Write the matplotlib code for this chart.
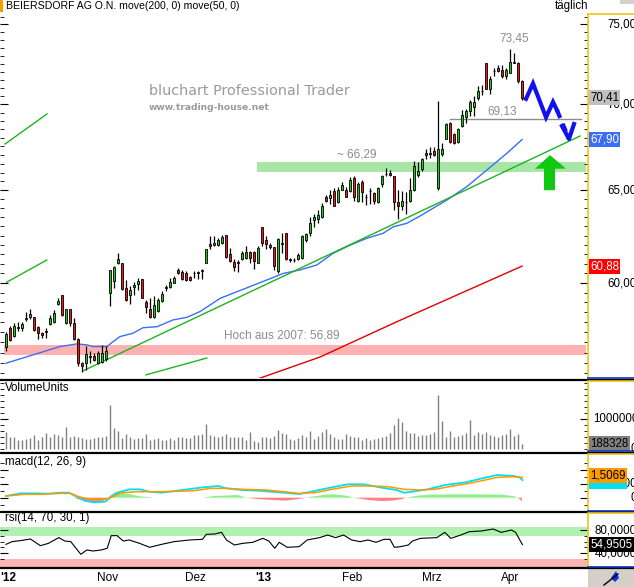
import numpy as np
import matplotlib.pyplot as plt
from matplotlib.lines import Line2D
from matplotlib.patches import Rectangle, Polygon
from matplotlib.ticker import FixedLocator, NullFormatter
from matplotlib.transforms import blended_transform_factory as blend

plt.rcParams['font.family'] = ['Liberation Sans', 'DejaVu Sans']
plt.rcParams['font.size'] = 8

# ---- values (x = trading day index, 0 = late Sept 2012) ----
opens = [56.77, 57.70, 57.32, 57.70, 57.70, 58.15, 58.25, 58.28, 57.78, 57.45,
         57.55, 57.90, 58.03, 58.90, 59.40, 57.95, 58.68, 57.95, 57.18, 56.00,
         55.98, 56.30, 56.32, 55.98, 56.07, 56.18, 59.48, 60.12, 61.02, 61.06,
         59.73, 59.37, 59.80, 59.95, 60.20, 59.00, 58.68, 58.28, 58.58, 59.08,
         59.75, 59.78, 60.02, 60.70, 60.55, 60.52, 60.29, 60.52, 60.50, 60.62,
         61.06, 62.04, 61.99, 62.00, 62.13, 62.55, 61.50, 61.09, 61.10, 61.23,
         61.33, 61.63, 61.63, 61.06, 62.99, 62.27, 61.99, 61.87, 60.60, 62.08,
         62.62, 61.24, 61.22, 61.27, 61.33, 62.26, 62.67, 63.35, 63.40, 63.53,
         64.64, 64.55, 64.96, 64.32, 65.04, 65.04, 64.96, 65.68, 64.42, 65.48,
         64.62, 64.96, 64.85, 64.32, 65.35, 65.90, 65.97, 65.78, 64.32, 64.10,
         64.32, 64.42, 65.04, 65.87, 66.21, 67.10, 67.08, 67.22, 65.10, 67.05,
         67.96, 68.89, 68.21, 67.76, 68.69, 69.24, 69.57, 69.82, 70.38, 70.80,
         72.56, 70.90, 72.02, 72.20, 72.10, 71.70, 71.94, 72.55, 72.56, 71.41]
highs = [57.53, 57.82, 57.98, 58.00, 58.01, 58.50, 58.68, 58.28, 57.82, 57.52,
         57.73, 58.35, 58.62, 59.23, 59.40, 58.68, 58.68, 58.23, 57.23, 56.05,
         56.85, 56.57, 56.48, 56.57, 56.90, 56.82, 60.70, 60.88, 61.56, 61.06,
         60.16, 59.82, 60.07, 60.28, 60.23, 59.15, 59.23, 59.31, 59.23, 59.57,
         59.90, 60.25, 60.34, 60.79, 60.70, 60.61, 60.34, 60.61, 60.61, 60.74,
         61.81, 62.49, 62.49, 62.40, 62.55, 62.55, 61.86, 61.24, 61.20, 61.68,
         61.92, 61.68, 61.68, 61.95, 62.99, 62.49, 62.13, 61.87, 62.40, 62.62,
         62.62, 61.30, 61.30, 61.56, 62.53, 62.67, 63.53, 63.66, 63.92, 64.28,
         64.73, 65.00, 65.14, 65.18, 65.48, 65.16, 65.74, 65.78, 65.48, 65.58,
         64.78, 65.10, 64.91, 65.16, 65.87, 66.26, 66.17, 65.78, 65.00, 64.96,
         64.91, 65.68, 66.65, 66.59, 66.85, 67.35, 67.45, 67.49, 70.21, 67.72,
         68.89, 68.93, 68.27, 68.60, 69.67, 69.71, 70.27, 70.52, 71.14, 71.20,
         72.56, 71.72, 72.20, 72.40, 72.40, 72.20, 73.45, 73.14, 72.60, 71.47]
lows = [56.60, 57.07, 57.29, 57.55, 57.57, 58.07, 58.15, 57.57, 57.18, 57.23,
        57.23, 57.85, 57.98, 58.85, 58.32, 57.90, 57.82, 57.12, 55.85, 55.57,
        55.65, 55.98, 56.12, 55.95, 56.02, 56.12, 58.82, 59.75, 61.00, 59.65,
        59.07, 58.90, 59.37, 59.65, 59.22, 58.45, 58.23, 58.23, 58.52, 59.02,
        59.57, 59.73, 59.98, 60.47, 60.16, 60.12, 60.12, 60.25, 60.20, 60.20,
        61.02, 61.81, 61.92, 61.95, 62.08, 61.31, 61.09, 60.61, 60.55, 61.20,
        61.27, 61.06, 60.73, 61.02, 61.92, 61.77, 61.77, 60.66, 60.52, 61.57,
        61.20, 61.09, 61.10, 61.20, 61.27, 62.17, 62.49, 62.99, 63.20, 63.48,
        64.37, 64.25, 64.10, 64.28, 65.00, 64.60, 64.91, 64.42, 64.37, 64.37,
        64.19, 64.25, 64.25, 64.28, 65.19, 65.78, 65.78, 63.89, 63.42, 63.89,
        63.66, 64.37, 64.96, 65.74, 66.07, 66.77, 66.82, 66.97, 65.00, 66.97,
        67.92, 67.69, 67.63, 67.73, 68.66, 68.89, 69.28, 69.32, 70.27, 70.58,
        70.90, 70.65, 71.72, 71.97, 71.63, 71.56, 71.90, 72.52, 71.27, 70.27]
closes = [57.42, 57.12, 57.82, 57.75, 57.93, 58.20, 58.40, 57.62, 57.45, 57.35,
          57.50, 58.23, 58.45, 59.07, 58.35, 58.65, 57.95, 57.18, 55.98, 55.85,
          56.45, 56.32, 56.15, 56.48, 56.48, 56.57, 60.70, 60.84, 61.24, 59.68,
          59.12, 59.65, 59.90, 60.12, 59.23, 58.78, 58.28, 58.85, 59.15, 59.45,
          59.80, 60.07, 60.28, 60.52, 60.20, 60.16, 60.16, 60.50, 60.55, 60.66,
          61.77, 61.95, 62.13, 62.26, 62.44, 61.38, 61.14, 60.84, 61.07, 61.59,
          61.63, 61.33, 61.14, 61.86, 62.09, 62.04, 61.87, 60.88, 62.31, 62.12,
          61.23, 61.22, 61.20, 61.45, 62.49, 62.58, 63.21, 63.53, 63.60, 64.10,
          64.42, 64.73, 64.14, 65.00, 65.29, 64.64, 65.58, 64.64, 65.35, 64.91,
          64.60, 64.94, 64.42, 65.10, 65.78, 65.93, 65.87, 64.37, 64.14, 64.42,
          64.37, 65.00, 66.36, 66.07, 66.75, 66.98, 67.10, 67.03, 67.35, 67.35,
          68.85, 67.76, 67.72, 68.54, 69.38, 69.57, 70.16, 70.16, 70.79, 70.82,
          70.94, 71.52, 72.05, 72.05, 71.70, 72.10, 72.60, 72.56, 71.41, 70.41]
volume = [560, 420, 400, 310, 310, 330, 360, 480, 310, 420,
          530, 400, 510, 490, 420, 730, 420, 440, 400, 370,
          330, 330, 360, 420, 420, 440, 1480, 700, 620, 370,
          510, 420, 330, 360, 370, 510, 310, 330, 370, 310,
          310, 360, 310, 420, 420, 360, 370, 480, 480, 500,
          840, 480, 440, 420, 440, 510, 400, 400, 420, 400,
          310, 570, 260, 240, 420, 400, 370, 440, 640, 530,
          510, 330, 310, 370, 480, 420, 620, 330, 440, 560,
          670, 510, 400, 330, 330, 510, 440, 420, 400, 310,
          370, 310, 330, 370, 420, 440, 530, 810, 1030, 910,
          610, 530, 530, 440, 480, 470, 510, 590, 1810, 940,
          420, 610, 400, 440, 480, 530, 980, 480, 580, 510,
          590, 480, 440, 400, 470, 510, 680, 440, 510, 188.328]  # thousand units

# 50-day average (blue) and 200-day average (red), read at a few days
ma50_day = [0, 13.5, 17.75, 20.25, 21.75, 25.25, 26.75, 28.5, 31.75, 34.25, 37.75, 41.75,
            45.25, 48.5, 51, 53.5, 65.6, 69.3, 73.5, 77.7, 81.8, 86, 90.2, 94.3, 96.8,
            100.2, 103.5, 110.2, 115.2, 120.2, 125.2, 129]
ma50_val = [55.99, 56.80, 56.93, 56.88, 56.80, 56.80, 57.04, 57.29, 57.46, 57.73, 57.78, 58.12,
            58.25, 58.54, 58.87, 59.21, 60.19, 60.50, 60.68, 60.94, 61.56, 61.99, 62.36, 62.63, 62.98,
            63.17, 63.57, 64.45, 65.20, 66.14, 67.10, 67.90]
ma200_day = [63, 78.5, 98.5, 129]
ma200_val = [55.24, 56.29, 58.10, 60.88]

# hand-drawn lines
trend_day, trend_val = [19.25, 143.5], [55.62, 68.11]
chan_a_day, chan_a_val = [-0.25, 10.25], [67.64, 69.42]
chan_b_day, chan_b_val = [0.17, 10.17], [60.04, 61.20]
chan_c_day, chan_c_val = [35, 50.2], [55.43, 56.24]
hline_day, hline_val = [111, 143.75], 69.13
res_band = (66.05, 66.59)
sup_band = (56.39, 56.89)
zig_day = [130, 131.75, 135, 136.75, 137.75]
zig_val = [70.33, 71.27, 69.22, 70.14, 69.64]
zig_dash_day, zig_dash_val = [137.75, 140.75], [69.64, 67.94]
head_day, head_val = [139.0, 140.75, 142.0], [68.70, 67.94, 68.82]
arrow_day = [134.5, 137.25, 137.25, 140.0, 136.0, 132.25, 134.5]
arrow_val = [65.0, 65.0, 66.22, 66.22, 67.0, 66.22, 66.22]

# MACD(12,26,9)
macd_day = [0, 3.6, 7.6, 10.6, 13.7, 15.7, 17.7, 19.7, 21.8, 24.8, 26.3, 27.8, 30.8, 33.4,
            35.9, 38.9, 44, 49.1, 53.1, 55.1, 59.2, 63.2, 69.3, 73.3, 77.4, 81.4, 85.4,
            89.5, 93.5, 97.6, 99.6, 101.6, 105.7, 109.7, 114.8, 119.8, 122.8, 126.9, 128.4, 129.1]
macd_val = [0.12, 0.31, 0.31, 0.29, 0.36, 0.36, 0.07, -0.22, -0.33, -0.29, 0.07, 0.36, 0.60, 0.60,
            0.43, 0.36, 0.55, 0.74, 0.84, 0.67, 0.55, 0.50, 0.36, 0.26, 0.50, 0.74, 0.96,
            0.96, 0.74, 0.55, 0.36, 0.43, 0.62, 0.91, 1.10, 1.44, 1.63, 1.56, 1.46, 1.27]
sig_day = [0, 4.6, 8.6, 13.7, 16.2, 18.2, 20.7, 24.8, 26.8, 28.8, 32.9, 36.9, 42, 47, 51.1,
           55.1, 59.2, 65.2, 69.3, 73.3, 77.4, 81.4, 86.4, 91.5, 95.5, 99.6, 103.6, 107.7,
           111.7, 115.8, 119.8, 122.8, 126.9, 129.1]
sig_val = [0.12, 0.24, 0.24, 0.31, 0.31, 0.07, -0.10, -0.12, 0.07, 0.36, 0.43, 0.43, 0.45, 0.50, 0.67,
           0.67, 0.60, 0.55, 0.43, 0.31, 0.36, 0.60, 0.84, 0.84, 0.79, 0.60, 0.55, 0.62,
           0.84, 1.03, 1.27, 1.46, 1.51, 1.46]
hist_day = [0, 12, 17, 18, 21, 24, 25, 26, 27.5, 30, 33.5, 37, 49, 52, 58, 60, 63, 66, 70, 73, 75,
            77, 80, 82, 85, 87, 88, 91, 94, 97, 99, 100, 102, 103, 106, 112, 118, 124, 127, 128, 129]
hist_val = [0, 0, 0, -0.10, -0.33, -0.28, -0.10, 0.15, 0.43, 0.30, 0.10, 0, 0, 0.12, 0.19, 0, -0.10, -0.15,
            -0.21, -0.10, 0, 0.10, 0.22, 0.24, 0.15, 0, -0.05, -0.18, -0.24, -0.20, -0.10, 0, 0.10,
            0.15, 0.22, 0.24, 0.24, 0.22, 0.10, 0, -0.24]

# RSI(14)
rsi_day = [0, 1.5, 3.55, 6.1, 8.6, 10.6, 13.2, 14.7, 16.2, 18.7, 20.2, 21.8, 23.8, 25.3, 26.3,
           27.8, 29.3, 30.8, 33.4, 35.9, 38.9, 42, 46, 49.1, 50.1, 52.1, 53.9, 55.1, 57.1, 59.2,
           61.7, 64.2, 65.7, 67.2, 68.3, 70.3, 73.3, 75.3, 78.4, 80.4, 82.4, 84.4, 86.4, 88.5,
           90.5, 92.5, 94.5, 96, 97.1, 98.6, 100.6, 101.6, 103.6, 107.7, 109.7, 111.2, 113.7,
           115.8, 118.8, 121.8, 123.8, 126.4, 127.4, 129.1]
rsi_val = [55.4, 60.0, 61.7, 64.6, 53.1, 57.1, 66.9, 61.1, 60.0, 38.3, 45.7, 44.0, 45.7, 48.6, 70.3,
           70.3, 61.1, 62.9, 57.1, 50.3, 55.4, 60.0, 62.9, 64.0, 72.6, 73.1, 76.0, 62.9, 54.3, 57.1,
           58.9, 65.7, 61.1, 48.6, 58.9, 50.3, 51.4, 62.9, 66.9, 71.4, 66.9, 71.4, 62.9, 60.0,
           62.9, 58.9, 64.0, 64.0, 50.3, 51.4, 54.3, 61.1, 65.7, 66.9, 76.0, 65.7, 71.4,
           77.1, 78.3, 81.7, 76.0, 80.0, 76.0, 54.95]

month_names = ["'12", "Nov", "Dez", "'13", "Feb", "Mrz", "Apr"]
month_day = [-1.5, 25.4, 47.3, 64.3, 86.5, 106.5, 126.0]

# ---- layout helpers (pixel boxes of the 634x587 picture) ----
W, H = 634, 587
def fx(px):
    return px / W
def fy(py):
    return 1 - py / H
def box(x0, y0, x1, y1):
    return [fx(x0), fy(y1), (x1 - x0) / W, (y1 - y0) / H]

GREEN, RED = '#1ec81e', '#e41c1c'
YELLOW = '#f0c419'
LBL = 8.3

fig = plt.figure(figsize=(W / 100, H / 100), dpi=100)
fig.patch.set_facecolor('white')

ax_p = fig.add_axes(box(0, 14, 588, 378))
ax_v = fig.add_axes(box(0, 381, 588, 451))
ax_m = fig.add_axes(box(0, 454, 588, 511))
ax_r = fig.add_axes(box(0, 513, 588, 567))

for ax in (ax_p, ax_v, ax_m, ax_r):
    ax.set_xlim(-1.5, 145.5)
    ax.set_xticks([])
    for s in ('top', 'left', 'bottom'):
        ax.spines[s].set_visible(False)
    ax.spines['right'].set_color(YELLOW)
    ax.spines['right'].set_linewidth(1.2)
    ax.tick_params(axis='y', which='both', direction='in', left=True, right=True,
                   labelleft=False, labelright=False, color='black')
    ax.tick_params(axis='y', which='major', length=6)
    ax.tick_params(axis='y', which='minor', length=3)
    ax.yaxis.set_minor_formatter(NullFormatter())


def right_label(ax, value, text, fc=None, color='black', x=637, ha='right', z=5):
    tr = blend(fig.transFigure, ax.transData)
    kw = {}
    if fc is not None:
        kw['bbox'] = dict(boxstyle='square,pad=0.12', fc=fc, ec='none')
    ax.text(fx(x), value, text, transform=tr, va='center', ha=ha, fontsize=LBL,
            color=color, clip_on=False, zorder=z, **kw)


# ---- price panel ----
o, h, l, c = map(np.array, (opens, highs, lows, closes))
days = np.arange(len(c))
up = c >= o
ax_p.set_yscale('log')
ax_p.set_ylim(55.28, 75.67)
ax_p.axhspan(*res_band, xmin=(62.75 + 1.5) / 147, xmax=(145 + 1.5) / 147, color='#a8e6a8', lw=0, zorder=0)
ax_p.axhspan(*sup_band, xmin=0.006, xmax=(145 + 1.5) / 147, color='#ffb0b0', lw=0, zorder=0)
ax_p.vlines(days, l, h, color='black', lw=0.9, zorder=3)
hgt = np.where(np.abs(c - o) < 0.02, 0.02, np.abs(c - o))
ax_p.bar(days[up], hgt[up], bottom=np.minimum(o, c)[up], width=0.72, color=GREEN,
         edgecolor='black', lw=0.6, zorder=4)
ax_p.bar(days[~up], hgt[~up], bottom=np.minimum(o, c)[~up], width=0.72, color=RED,
         edgecolor='black', lw=0.6, zorder=4)
ax_p.plot(ma50_day, ma50_val, color='#3c6ef5', lw=1, zorder=2)
ax_p.plot(ma200_day, ma200_val, color='#e00000', lw=1, zorder=2)
for d, v in ((trend_day, trend_val), (chan_a_day, chan_a_val),
             (chan_b_day, chan_b_val), (chan_c_day, chan_c_val)):
    ax_p.plot(d, v, color='#1eb41e', lw=1, zorder=2)
ax_p.plot(hline_day, [hline_val, hline_val], color='#8c8c8c', lw=1, zorder=2)
ax_p.plot(zig_day, zig_val, color='#1010f0', lw=3, zorder=5, solid_joinstyle='miter')
ax_p.plot(zig_dash_day, zig_dash_val, color='#1010f0', lw=3, ls=(0, (2, 1.5)), zorder=5)
ax_p.plot(head_day, head_val, color='#1010f0', lw=3, zorder=5)
ax_p.add_patch(Polygon(list(zip(arrow_day, arrow_val)), closed=True, color='#10c810', lw=0, zorder=5))

gray_txt = dict(color='#8c8c8c', fontsize=8.5, ha='center', va='center')
ax_p.text(127.0, 74.08, '73,45', **gray_txt)
ax_p.text(124.0, 69.55, '69,13', **gray_txt)
ax_p.text(87.8, 67.05, '~ 66,29', **gray_txt)
ax_p.text(54.5, 57.35, 'Hoch aus 2007: 56,89', color='#8c8c8c', fontsize=8.5, ha='left', va='center')

ax_p.yaxis.set_major_locator(FixedLocator([60, 65, 70, 75]))
ax_p.yaxis.set_minor_locator(FixedLocator(np.arange(55.5, 75.6, 0.5)))
for v in (60, 65, 70, 75):
    right_label(ax_p, v, f'{v},00', z=3)
right_label(ax_p, 70.41, '70,41', fc='#c0c0c0', x=590, ha='left')
right_label(ax_p, 67.90, '67,90', fc='#3c6ef5', color='white', x=590, ha='left')
right_label(ax_p, 60.88, '60,88', fc='#ff0000', color='white', x=590, ha='left')

# ---- volume panel ----
ax_v.vlines(days, 0, np.array(volume) * 1000, color='#808080', lw=1)
ax_v.set_ylim(-57000, 2276000)
ax_v.yaxis.set_major_locator(FixedLocator([1000000]))
ax_v.yaxis.set_minor_locator(FixedLocator(np.arange(0, 2200001, 200000)))
ax_v.text(0.008, 0.9, 'VolumeUnits', transform=ax_v.transAxes, ha='left', va='center', fontsize=LBL)
right_label(ax_v, 1000000, '1000000', x=593, ha='left')
right_label(ax_v, 0, '0', z=3)
right_label(ax_v, 188328, '188328', fc='#808080', x=590, ha='left')

# ---- MACD panel ----
ax_m.set_ylim(-0.957, 3.14)
hd, hv = np.array(hist_day), np.array(hist_val)
ax_m.fill_between(hd, 0, hv, where=hv >= 0, color='#8cf08c', lw=0, interpolate=True)
ax_m.fill_between(hd, 0, hv, where=hv <= 0, color='#ff8080', lw=0, interpolate=True)
ax_m.plot(macd_day, macd_val, color='#00e0f0', lw=1.3)
ax_m.plot(sig_day, sig_val, color='#ff9900', lw=1.1)
ax_m.yaxis.set_major_locator(FixedLocator([0, 1, 2]))
ax_m.yaxis.set_minor_locator(FixedLocator([-0.5, 0.5, 1.5, 2.5]))
ax_m.text(0.008, 0.86, 'macd(12, 26, 9)', transform=ax_m.transAxes, ha='left', va='center', fontsize=LBL)
right_label(ax_m, 0, '0', z=3)
right_label(ax_m, 1.0, '1,0000', z=3)
right_label(ax_m, 1.15, '1,2700', fc='#00e0f0', color='#00e0f0', x=590, ha='left', z=5)
right_label(ax_m, 1.62, '1,5069', fc='#ff9900', x=590, ha='left', z=6)

# ---- RSI panel ----
ax_r.set_ylim(16.5, 109.2)
ax_r.axhspan(70, 85.7, color='#b0f0b0', lw=0, zorder=0)
ax_r.axhspan(16.5, 30, color='#ffb4b4', lw=0, zorder=0)
ax_r.plot(rsi_day, rsi_val, color='black', lw=0.8)
ax_r.yaxis.set_major_locator(FixedLocator([40, 80]))
ax_r.yaxis.set_minor_locator(FixedLocator([30, 50, 60, 70]))
ax_r.text(0.008, 0.91, 'rsi(14, 70, 30, 1)', transform=ax_r.transAxes, ha='left', va='center', fontsize=LBL)
right_label(ax_r, 80, '80,0000', z=3)
right_label(ax_r, 40, '40,0000', z=3)
right_label(ax_r, 54.95, '54,9505', fc='black', color='white', x=590, ha='left')

# month labels under the RSI panel
dtr = blend(ax_r.transData, fig.transFigure)
for name, d in zip(month_names, month_day):
    first = name == "'12"
    ax_r.text(d, fy(578), name, transform=dtr, clip_on=False,
              ha='left' if first else 'center', va='center', fontsize=8.5,
              fontweight='bold' if name.startswith("'") else 'normal')

# ---- frame decorations ----
for y in (379.5, 452.5, 512.3, 568):
    fig.add_artist(Line2D([0, 1], [fy(y), fy(y)], transform=fig.transFigure, color='black', lw=1.6))
for y0 in (14, 381, 454, 513):
    fig.add_artist(Line2D([fx(588), 1], [fy(y0), fy(y0)], transform=fig.transFigure, color=YELLOW, lw=1.2))
for y in (378.3, 451.3, 511.3, 566.8):
    fig.add_artist(Line2D([fx(588), 1], [fy(y), fy(y)], transform=fig.transFigure, color='#1030c0', lw=1.2))
fig.add_artist(Rectangle((0, fy(12)), fx(3), 12 / H, transform=fig.transFigure, color='#ff9900', lw=0))
fig.add_artist(Rectangle((fx(620), fy(4)), fx(14), 4 / H, transform=fig.transFigure, color='#d4d0c8', lw=0))
fig.add_artist(Rectangle((fx(588), 0), fx(46), 19 / H, transform=fig.transFigure, color='#d4d0c8', lw=0))
fig.add_artist(Line2D([fx(604), fx(618)], [fy(585), fy(574)], transform=fig.transFigure, color='black', lw=1))
fig.add_artist(Polygon([(fx(611), fy(578)), (fx(616), fy(571)), (fx(619), fy(578)), (fx(615), fy(582))],
                       closed=True, transform=fig.transFigure, color='#1030e0', lw=0))

fig.text(fx(6), fy(6), 'BEIERSDORF AG O.N. move(200, 0) move(50, 0)', ha='left', va='center', fontsize=7.6)
fig.text(fx(555), fy(6), 'täglich', ha='left', va='center', fontsize=LBL)
fig.text(fx(149), fy(91), 'bluchart Professional Trader', ha='left', va='center', fontsize=10.4,
         color='#9a9a9a', family=['DejaVu Sans'])
fig.text(fx(149), fy(107), 'www.trading-house.net', ha='left', va='center', fontsize=6.6,
         color='#9a9a9a', family=['DejaVu Sans'], fontweight='bold')

fig.savefig('out.png', dpi=100)
